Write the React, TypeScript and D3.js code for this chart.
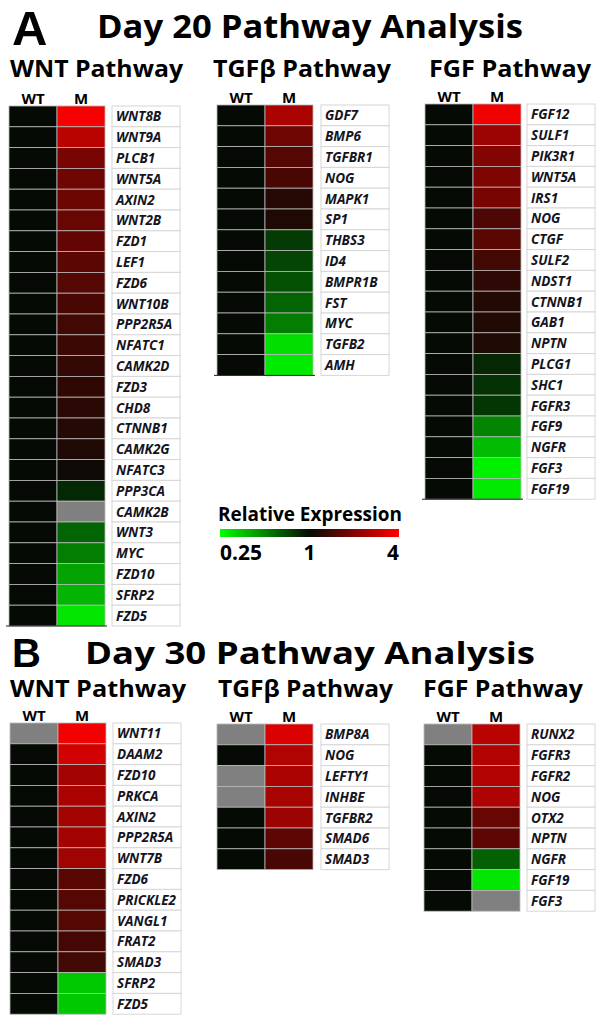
import React, { useRef, useEffect } from 'react'
import * as d3 from 'd3'

// Day 20 - relative expression (fold change vs WT), null = not detected (grey)
const wntGenesD20 = ['WNT8B', 'WNT9A', 'PLCB1', 'WNT5A', 'AXIN2', 'WNT2B', 'FZD1', 'LEF1', 'FZD6', 'WNT10B', 'PPP2R5A', 'NFATC1', 'CAMK2D', 'FZD3', 'CHD8', 'CTNNB1', 'CAMK2G', 'NFATC3', 'PPP3CA', 'CAMK2B', 'WNT3', 'MYC', 'FZD10', 'SFRP2', 'FZD5']
const wntWtD20 = [1, 1, 1, 1, 1, 1, 1, 1, 1, 1, 1, 1, 1, 1, 1, 1, 1, 1, 1, 1, 1, 1, 1, 1, 1]
const wntMutD20 = [3.8, 2.7, 1.9, 1.8, 1.77, 1.72, 1.68, 1.6, 1.55, 1.46, 1.4, 1.35, 1.3, 1.26, 1.23, 1.19, 1.15, 1.05, 0.85, null, 0.6, 0.52, 0.42, 0.38, 0.29]

const tgfGenesD20 = ['GDF7', 'BMP6', 'TGFBR1', 'NOG', 'MAPK1', 'SP1', 'THBS3', 'ID4', 'BMPR1B', 'FST', 'MYC', 'TGFB2', 'AMH']
const tgfWtD20 = [1, 1, 1, 1, 1, 1, 1, 1, 1, 1, 1, 1, 1]
const tgfMutD20 = [2.5, 1.8, 1.55, 1.46, 1.2, 1.15, 0.76, 0.72, 0.67, 0.6, 0.52, 0.3, 0.28]

const fgfGenesD20 = ['FGF12', 'SULF1', 'PIK3R1', 'WNT5A', 'IRS1', 'NOG', 'CTGF', 'SULF2', 'NDST1', 'CTNNB1', 'GAB1', 'NPTN', 'PLCG1', 'SHC1', 'FGFR3', 'FGF9', 'NGFR', 'FGF3', 'FGF19']
const fgfWtD20 = [1, 1, 1, 1, 1, 1, 1, 1, 1, 1, 1, 1, 1, 1, 1, 1, 1, 1, 1]
const fgfMutD20 = [3.7, 2.3, 2.0, 1.97, 1.9, 1.5, 1.6, 1.4, 1.25, 1.18, 1.17, 1.15, 0.85, 0.8, 0.78, 0.5, 0.37, 0.27, 0.28]

// Day 30
const wntGenesD30 = ['WNT11', 'DAAM2', 'FZD10', 'PRKCA', 'AXIN2', 'PPP2R5A', 'WNT7B', 'FZD6', 'PRICKLE2', 'VANGL1', 'FRAT2', 'SMAD3', 'SFRP2', 'FZD5']
const wntWtD30 = [null, 1, 1, 1, 1, 1, 1, 1, 1, 1, 1, 1, 1, 1]
const wntMutD30 = [3.7, 3.1, 2.4, 2.5, 2.4, 2.4, 2.35, 1.6, 1.55, 1.55, 1.42, 1.4, 0.34, 0.34]

const tgfGenesD30 = ['BMP8A', 'NOG', 'LEFTY1', 'INHBE', 'TGFBR2', 'SMAD6', 'SMAD3']
const tgfWtD30 = [null, 1, null, null, 1, 1, 1]
const tgfMutD30 = [3.3, 2.6, 2.5, 2.45, 2.3, 1.63, 1.46]

const fgfGenesD30 = ['RUNX2', 'FGFR3', 'FGFR2', 'NOG', 'OTX2', 'NPTN', 'NGFR', 'FGF19', 'FGF3']
const fgfWtD30 = [null, 1, 1, 1, 1, 1, 1, 1, 1]
const fgfMutD30 = [2.7, 2.6, 2.6, 2.55, 1.72, 1.63, 0.61, 0.29, null]

const legendTicks = [0.25, 1, 4]

const ROW_H = 20.8
const CELL_W = 48
const LABEL_W = 68
const TITLE_FONT = "'Open Sans', sans-serif"

const panels = [
  { title: 'WNT Pathway', genes: wntGenesD20, wt: wntWtD20, mut: wntMutD20, left: 9, top: 106, labelX: 112, titleX: 10, titleW: 173, titleY: 77, baseLine: true },
  { title: 'TGFβ Pathway', genes: tgfGenesD20, wt: tgfWtD20, mut: tgfMutD20, left: 217, top: 105, labelX: 321, titleX: 213, titleW: 178, titleY: 77, baseLine: true },
  { title: 'FGF Pathway', genes: fgfGenesD20, wt: fgfWtD20, mut: fgfMutD20, left: 425, top: 104, labelX: 527, titleX: 429, titleW: 162, titleY: 77, baseLine: true },
  { title: 'WNT Pathway', genes: wntGenesD30, wt: wntWtD30, mut: wntMutD30, left: 10, top: 723, labelX: 113, titleX: 10, titleW: 176, titleY: 697, baseLine: false },
  { title: 'TGFβ Pathway', genes: tgfGenesD30, wt: tgfWtD30, mut: tgfMutD30, left: 217, top: 724, labelX: 321, titleX: 218, titleW: 175, titleY: 697, baseLine: false },
  { title: 'FGF Pathway', genes: fgfGenesD30, wt: fgfWtD30, mut: fgfMutD30, left: 424, top: 724, labelX: 527, titleX: 423, titleW: 160, titleY: 697, baseLine: false },
]

export default function App() {
  const canvas = useRef(null)

  useEffect(() => {
    const svg = d3.select(canvas.current)
    svg.selectAll('*').remove()

    const color = d3.scaleLinear<string>().domain([-2, 0, 2]).range(['#00ff00', '#050a05', '#ff0000']).clamp(true)
    const fill = (v) => (v == null ? '#808080' : color(Math.log2(v)))

    // panel letters + headings
    svg.append('text').attr('x', 12).attr('y', 45).attr('font-family', "'Liberation Sans', Arial, sans-serif").attr('font-weight', 'bold').attr('font-size', 49).text('A')
    svg.append('text').attr('x', 97).attr('y', 38).attr('font-family', TITLE_FONT).attr('font-weight', 'bold').attr('font-size', 32).attr('textLength', 426).attr('lengthAdjust', 'spacingAndGlyphs').text('Day 20 Pathway Analysis')
    svg.append('text').attr('x', 12).attr('y', 667).attr('font-family', "'Liberation Sans', Arial, sans-serif").attr('font-weight', 'bold').attr('font-size', 40).text('B')
    svg.append('text').attr('x', 85).attr('y', 664).attr('font-family', TITLE_FONT).attr('font-weight', 'bold').attr('font-size', 31).attr('textLength', 450).attr('lengthAdjust', 'spacingAndGlyphs').text('Day 30 Pathway Analysis')

    panels.forEach(p => {
      const g = svg.append('g')
      const y = d3.scaleBand().domain(p.genes).range([p.top, p.top + p.genes.length * ROW_H])
      const x = d3.scaleBand().domain(['WT', 'M']).range([p.left, p.left + 2 * CELL_W])

      g.append('text').attr('x', p.titleX).attr('y', p.titleY).attr('font-family', TITLE_FONT).attr('font-weight', 'bold').attr('font-size', 24).attr('textLength', p.titleW).attr('lengthAdjust', 'spacingAndGlyphs').text(p.title)

      g.selectAll('text.col').data(x.domain()).join('text').attr('class', 'col')
        .attr('x', d => x(d) + x.bandwidth() / 2).attr('y', p.top - 2)
        .attr('text-anchor', 'middle').attr('font-family', TITLE_FONT).attr('font-weight', 'bold').attr('font-size', 15)
        .text(d => d)

      const cells = p.genes.flatMap((gene, i) => [
        { gene, col: 'WT', v: p.wt[i] },
        { gene, col: 'M', v: p.mut[i] },
      ])
      g.selectAll('rect.cell').data(cells).join('rect').attr('class', 'cell')
        .attr('x', d => x(d.col)).attr('y', d => y(d.gene))
        .attr('width', x.bandwidth()).attr('height', y.bandwidth())
        .attr('fill', d => fill(d.v)).attr('stroke', '#b8b8b8').attr('stroke-width', 0.8)

      if (p.baseLine) {
        const yb = p.top + p.genes.length * ROW_H
        g.append('line').attr('x1', p.left - 3).attr('x2', p.left + 2 * CELL_W + 2).attr('y1', yb).attr('y2', yb).attr('stroke', '#222').attr('stroke-width', 1)
      }

      g.selectAll('rect.lab').data(p.genes).join('rect').attr('class', 'lab')
        .attr('x', p.labelX).attr('y', d => y(d)).attr('width', LABEL_W).attr('height', y.bandwidth())
        .attr('fill', '#fff').attr('stroke', '#d6d6d6').attr('stroke-width', 1)
      g.selectAll('text.lab').data(p.genes).join('text').attr('class', 'lab')
        .attr('x', p.labelX + 4).attr('y', d => y(d) + y.bandwidth() / 2 + 5)
        .attr('font-family', TITLE_FONT).attr('font-weight', 'bold').attr('font-style', 'italic').attr('font-size', 13.5)
        .attr('fill', '#14141e')
        .text(d => d)
    })

    // legend
    const lx = d3.scaleLog().domain([legendTicks[0], legendTicks[2]]).range([220, 399])
    const defs = svg.append('defs')
    const grad = defs.append('linearGradient').attr('id', 'expr')
    legendTicks.forEach(t => {
      grad.append('stop').attr('offset', (lx(t) - 220) / 179).attr('stop-color', color(Math.log2(t)))
    })
    svg.append('text').attr('x', 218).attr('y', 521).attr('font-family', TITLE_FONT).attr('font-weight', 'bold').attr('font-size', 20).attr('textLength', 184).attr('lengthAdjust', 'spacingAndGlyphs').text('Relative Expression')
    svg.append('rect').attr('x', 220).attr('y', 529).attr('width', 179).attr('height', 8).attr('fill', 'url(#expr)')
    svg.selectAll('text.tick').data(legendTicks).join('text').attr('class', 'tick')
      .attr('x', d => lx(d)).attr('y', 560)
      .attr('text-anchor', (d, i) => (i === 0 ? 'start' : i === legendTicks.length - 1 ? 'end' : 'middle'))
      .attr('font-family', TITLE_FONT).attr('font-weight', 'bold').attr('font-size', 21)
      .text(d => d)
  })

  return (
    <svg ref={canvas} width={602} height={1026} style={{ position: 'absolute', left: 0, top: 0, background: '#fff' }} />
  )
}
